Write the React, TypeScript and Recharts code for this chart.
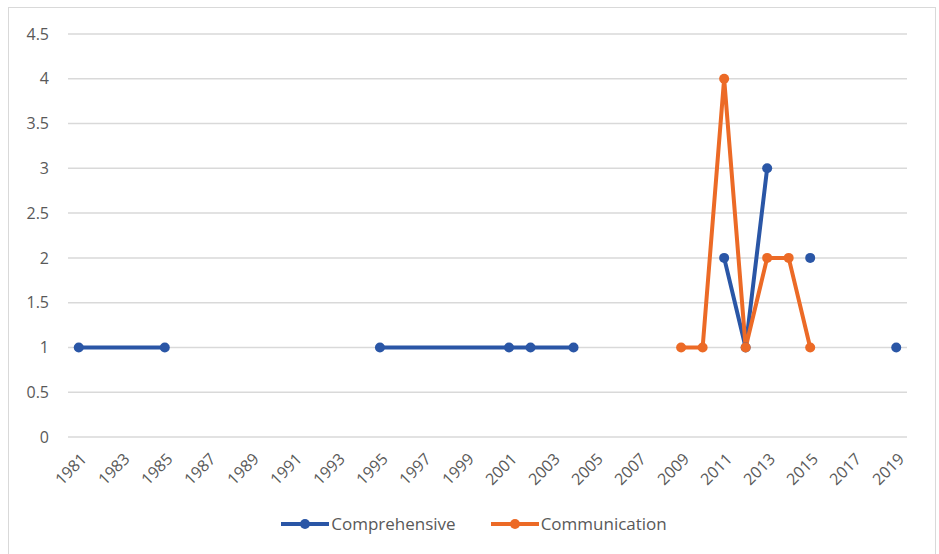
import { LineChart, Line, XAxis, YAxis, CartesianGrid, Legend } from 'recharts'

// rows as they sit in the sheet; 1990 and 2017 are empty rows that break the lines
const years = [1981, 1985, 1990, 1995, 2001, 2002, 2004, 2009, 2010, 2011, 2012, 2013, 2014, 2015, 2017, 2019]
const comprehensive = [1, 1, null, 1, 1, 1, 1, null, null, 2, 1, 3, null, 2, null, 1]
const communication = [null, null, null, null, null, null, null, 1, 1, 4, 1, 2, 2, 1, null, null]

const xTicks = [1981, 1983, 1985, 1987, 1989, 1991, 1993, 1995, 1997, 1999, 2001, 2003, 2005, 2007, 2009, 2011, 2013, 2015, 2017, 2019]
const yTicks = [0, 0.5, 1, 1.5, 2, 2.5, 3, 3.5, 4, 4.5]

const BLUE = '#2A56A6'
const ORANGE = '#EC6A26'
const TEXT = '#595959'
const FONT = '"Open Sans", "Liberation Sans", sans-serif'

const data = years.map((year, i) => ({
  year,
  Comprehensive: comprehensive[i],
  Communication: communication[i],
}))

const series = [
  { key: 'Comprehensive', color: BLUE },
  { key: 'Communication', color: ORANGE },
]

function YearTick({ x, y, payload }: any) {
  return (
    <g transform={`translate(${x + 9},${y + 15})`}>
      <text x={0} y={0} transform="rotate(-45)" textAnchor="end" fill={TEXT} fontSize={16} fontFamily={FONT}>
        {payload.value}
      </text>
    </g>
  )
}

function LegendRow() {
  return (
    <div style={{ display: 'flex', justifyContent: 'center', alignItems: 'center', gap: 34, fontFamily: FONT, fontSize: 17, color: TEXT, paddingTop: 5, paddingLeft: 32 }}>
      {series.map((s) => (
        <div key={s.key} style={{ display: 'flex', alignItems: 'center' }}>
          <svg width={50} height={12} style={{ marginRight: 1 }}>
            <line x1={1} y1={6} x2={49} y2={6} stroke={s.color} strokeWidth={4} />
            <circle cx={25} cy={6} r={5} fill={s.color} />
          </svg>
          <span>{s.key}</span>
        </div>
      ))}
    </div>
  )
}

export default function App() {
  return (
    <div style={{ position: 'absolute', left: 0, top: 0, width: 939, height: 554, background: '#fff', overflow: 'hidden' }}>
      <div style={{ position: 'absolute', left: 8, top: 7, width: 928, height: 560, border: '1.5px solid #d9d9d9', boxSizing: 'border-box' }} />
      <div style={{ position: 'absolute', left: 0, top: 0 }}>
        <LineChart width={939} height={554} data={data} margin={{ top: 34, right: 32, left: 8, bottom: 7 }}>
          <CartesianGrid vertical={false} stroke="#d9d9d9" strokeWidth={1.5} />
          <XAxis
            dataKey="year"
            type="number"
            domain={[1980.5, 2019.5]}
            ticks={xTicks}
            interval={0}
            axisLine={false}
            tickLine={false}
            height={70}
            tick={<YearTick />}
          />
          <YAxis
            domain={[0, 4.5]}
            ticks={yTicks}
            interval={0}
            width={60}
            axisLine={false}
            tickLine={false}
            tickSize={0}
            tickMargin={19}
            tick={{ fill: TEXT, fontSize: 16, fontFamily: FONT }}
          />
          <Legend verticalAlign="bottom" height={40} content={<LegendRow />} />
          {series.map((s) => (
            <Line
              key={s.key}
              dataKey={s.key}
              stroke={s.color}
              strokeWidth={4}
              dot={{ r: 5, fill: s.color, stroke: s.color, strokeWidth: 0 }}
              activeDot={false}
              isAnimationActive={false}
              type="linear"
            />
          ))}
        </LineChart>
      </div>
    </div>
  )
}
